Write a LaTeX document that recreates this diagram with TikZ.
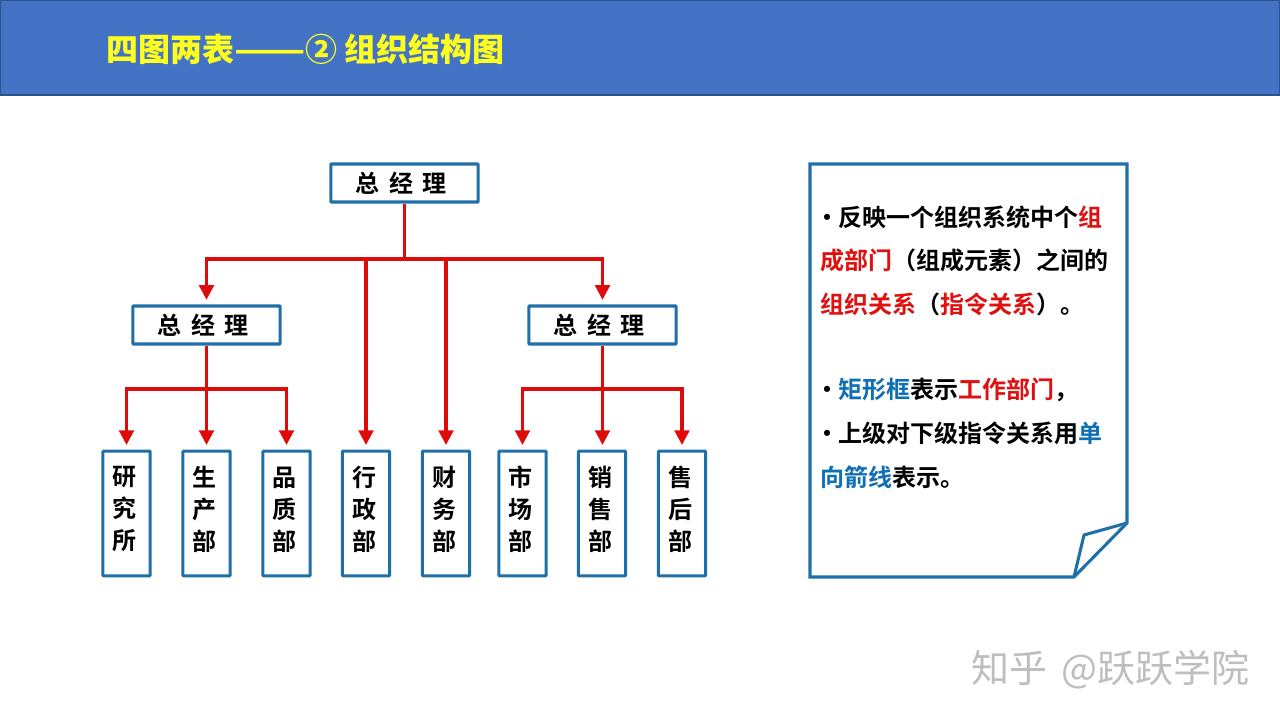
\documentclass[tikz,border=0pt]{standalone}
\usepackage{fontspec}
\usepackage{graphicx}
\setmainfont{Noto Sans CJK SC}[BoldFont={Noto Sans CJK SC Bold}]
\newfontfamily\heavyfont{Noto Sans CJK SC Black}
\usetikzlibrary{arrows.meta}
\definecolor{hdr}{HTML}{4472C4}
\definecolor{hdrline}{HTML}{2F528F}
\definecolor{boxblue}{HTML}{1F6FA8}
\definecolor{redline}{HTML}{DE0B0B}
\definecolor{txtblue}{HTML}{0F6FB5}
\definecolor{txtred}{HTML}{E01010}
\definecolor{titley}{HTML}{FFFF1E}
\definecolor{wm}{HTML}{BEBEBE}
\newcommand{\rd}[1]{\textcolor{txtred}{#1}}
\newcommand{\bl}[1]{\textcolor{txtblue}{#1}}
\newcommand{\bul}{\makebox[12.75pt][l]{\hspace{-4.5pt}•}}
\newcommand{\tri}[3]{\parbox{18pt}{\centering #1\\#2\\#3\par\vspace{6pt}}\kern2.5pt}
\newcommand{\gmtext}{总\hspace{7pt}经\hspace{7pt}理\kern5pt}
\tikzset{
  wide/.style={draw=boxblue,line width=2.3pt,rounded corners=0.6pt,fill=white,minimum width=110.5pt,minimum height=28.5pt,inner sep=0pt,font=\fontsize{18pt}{20pt}\selectfont\bfseries},
  tall/.style={draw=boxblue,line width=2.3pt,rounded corners=0.6pt,fill=white,minimum width=35.5pt,minimum height=93.5pt,inner sep=0pt,font=\fontsize{18pt}{24pt}\selectfont\bfseries},
  arr/.style={draw=redline,line width=2.4pt,-{Triangle[length=11pt,width=11pt]},shorten >=3.5pt},
  plain/.style={draw=redline,line width=2.4pt},
  note/.style={anchor=west,inner sep=0pt,font=\fontsize{18pt}{20pt}\selectfont\bfseries},
  sheet/.style={draw=boxblue,line width=2.3pt,line join=miter}
}
\begin{document}
\begin{tikzpicture}[x=0.75pt,y=-0.75pt]
\useasboundingbox (0,0) rectangle (1280,720);
\fill[white] (0,0) rectangle (1280,720);
\draw[fill=hdr,draw=hdrline,line width=0.8pt] (0,0) rectangle (1280,95);
\node[anchor=west,inner sep=0pt,text=titley,font=\fontsize{24pt}{26pt}\selectfont\heavyfont] (title) at (106,49) {四图两表\scalebox{1.3}[1]{——}② 组织结构图};

\node[wide] (gm) at (404.5,183) {\gmtext};
\node[wide] (ml) at (206.5,325) {\gmtext};
\node[wide] (mr) at (602.5,325) {\gmtext};
\node[tall] (a1) at (126.5,513.5) {\tri{研}{究}{所}};
\node[tall] (a2) at (206.5,513.5) {\tri{生}{产}{部}};
\node[tall] (a3) at (286.5,513.5) {\tri{品}{质}{部}};
\node[tall] (b1) at (366,513.5) {\tri{行}{政}{部}};
\node[tall] (b2) at (446,513.5) {\tri{财}{务}{部}};
\node[tall] (c1) at (522.5,513.5) {\tri{市}{场}{部}};
\node[tall] (c2) at (602,513.5) {\tri{销}{售}{部}};
\node[tall] (c3) at (682,513.5) {\tri{售}{后}{部}};

\coordinate (busT) at (404.5,259);
\coordinate (busL) at (206.5,389);
\coordinate (busR) at (602.5,389);
\draw[plain] (gm.south) -- (busT);
\draw[arr] (busT) -| (ml.north);
\draw[arr] (busT) -| (mr.north);
\draw[arr] (b1.north |- busT) -- (b1.north);
\draw[arr] (b2.north |- busT) -- (b2.north);
\draw[arr] (ml.south) -- (a2.north);
\draw[arr] (busL) -| (a1.north);
\draw[arr] (busL) -| (a3.north);
\draw[arr] (mr.south) -- (mr.south |- c2.north);
\draw[arr] (busR) -| (c1.north);
\draw[arr] (busR) -| (c3.north);

\draw[sheet,fill=white] (810,164) -- (1127,164) -- (1127,523) -- (1074,577) -- (810,577) -- cycle;
\draw[sheet,line join=round] (1127,523) -- (1084,535) -- (1074,577);

\node[note] (n1) at (821,217) {\bul 反映一个组织系统中个\rd{组}};
\node[note] (n2) at (820,260) {\rd{成部门}（组成元素）之间的};
\node[note] (n3) at (820,304) {\rd{组织关系}（\rd{指令关系}）。};
\node[note] (n4) at (821,390) {\bul\bl{矩形框}表示\rd{工作部门}，};
\node[note] (n5) at (821,433) {\bul 上级对下级指令关系用\bl{单}};
\node[note] (n6) at (820,477) {\bl{向箭线}表示。};

\node[anchor=west,inner sep=0pt,text=wm,font=\fontsize{28.5pt}{30pt}\selectfont] (wmk) at (971,670) {知乎\hspace{11pt}@跃跃学院};
\end{tikzpicture}
\end{document}
